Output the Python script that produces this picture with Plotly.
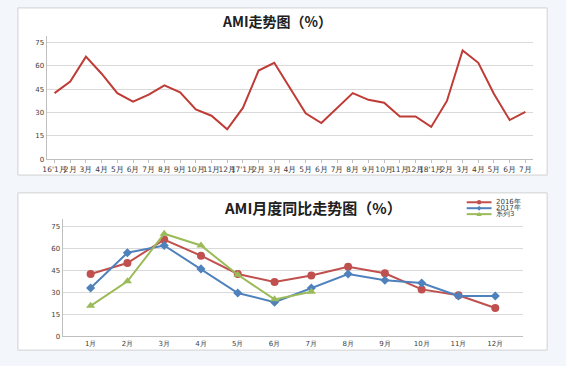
import plotly.graph_objects as go

W, H = 566, 366

months = ["1月", "2月", "3月", "4月", "5月", "6月", "7月", "8月", "9月", "10月", "11月", "12月"]
ami_2016 = [42.5, 50, 66, 55, 42.5, 37, 41.5, 47.5, 43, 32, 28, 19.3]
ami_2017 = [33, 57, 62, 46, 29.5, 23.3, 33, 42.5, 38.2, 36.3, 27.5, 27.5]
ami_2018 = [20.8, 37.5, 70, 62, 42, 25.2, 30.4]
series_names = ["2016年", "2017年", "系列3"]

top_labels = (["16'1月"] + months[1:] + ["17'1月"] + months[1:] + ["18'1月"] + months[1:7])
top_values = ami_2016 + ami_2017 + ami_2018
top_x = list(range(len(top_values)))


def px(x):
    return x / W


def py(y):
    return 1 - y / H


RED = "#C0504D"
BLUE = "#4F81BD"
GREEN = "#9BBB59"
TOPRED = "#BE3B36"
FONT = "DejaVu Sans"

fig = go.Figure()

fig.add_trace(go.Scatter(x=top_x, y=top_values, mode="lines",
                         line=dict(color=TOPRED, width=2), showlegend=False,
                         xaxis="x", yaxis="y"))

fig.add_trace(go.Scatter(x=months, y=ami_2016, mode="lines+markers", name=series_names[0],
                         line=dict(color=RED, width=2),
                         marker=dict(symbol="circle", size=8, color=RED),
                         xaxis="x2", yaxis="y2", showlegend=False))
fig.add_trace(go.Scatter(x=months, y=ami_2017, mode="lines+markers", name=series_names[1],
                         line=dict(color=BLUE, width=2),
                         marker=dict(symbol="diamond", size=7, color=BLUE),
                         xaxis="x2", yaxis="y2", showlegend=False))
fig.add_trace(go.Scatter(x=months[:len(ami_2018)], y=ami_2018, mode="lines+markers", name=series_names[2],
                         line=dict(color=GREEN, width=2),
                         marker=dict(symbol="triangle-up", size=8, color=GREEN),
                         xaxis="x2", yaxis="y2", showlegend=False))

grid = "#D9D9D9"
axcol = "#BFBFBF"
tickfont = dict(family=FONT, size=7, color="#404040")

shapes = [
    dict(type="rect", xref="paper", yref="paper", x0=px(14), x1=px(547), y0=py(177), y1=py(8),
         fillcolor="white", line=dict(color="#D0D0D0", width=1), layer="below"),
    dict(type="rect", xref="paper", yref="paper", x0=px(14), x1=px(547), y0=py(354), y1=py(195),
         fillcolor="white", line=dict(color="#D0D0D0", width=1), layer="below"),
]

annotations = [
    dict(text="<b>AMI走势图（%）</b>", xref="paper", yref="paper", x=px(275), y=py(21),
         showarrow=False, font=dict(family="Noto Sans CJK SC", size=14, color="#202020"),
         xanchor="center", yanchor="middle"),
    dict(text="<b>AMI月度同比走势图（%）</b>", xref="paper", yref="paper", x=px(311), y=py(210),
         showarrow=False, font=dict(family="Noto Sans CJK SC", size=15, color="#202020"),
         xanchor="center", yanchor="middle"),
]

# compact custom legend (Excel style)
leg_rows = [204.5, 210.5, 216.5]
leg_cols = [RED, BLUE, GREEN]
lx0, lx1 = 466, 491
for i, (name, col, ry) in enumerate(zip(series_names, leg_cols, leg_rows)):
    shapes.append(dict(type="line", xref="paper", yref="paper", x0=px(lx0), x1=px(lx1),
                       y0=py(ry), y1=py(ry), line=dict(color=col, width=2)))
    cx = (lx0 + lx1) / 2
    if i == 0:
        shapes.append(dict(type="circle", xref="paper", yref="paper",
                           x0=px(cx - 2.2), x1=px(cx + 2.2), y0=py(ry + 2.2), y1=py(ry - 2.2),
                           fillcolor=col, line=dict(color=col, width=0)))
    elif i == 1:
        shapes.append(dict(type="path", xref="paper", yref="paper",
                           path=f"M {px(cx)} {py(ry - 2.5)} L {px(cx + 2.2)} {py(ry)} L {px(cx)} {py(ry + 2.5)} L {px(cx - 2.2)} {py(ry)} Z",
                           fillcolor=col, line=dict(color=col, width=0)))
    else:
        shapes.append(dict(type="path", xref="paper", yref="paper",
                           path=f"M {px(cx)} {py(ry - 2.4)} L {px(cx + 2.6)} {py(ry + 2)} L {px(cx - 2.6)} {py(ry + 2)} Z",
                           fillcolor=col, line=dict(color=col, width=0)))
    annotations.append(dict(text=name, xref="paper", yref="paper", x=px(lx1 + 2), y=py(ry),
                            showarrow=False, xanchor="left", yanchor="middle",
                            font=dict(family=FONT, size=7, color="#404040")))

fig.update_layout(
    width=W, height=H,
    margin=dict(l=0, r=0, t=0, b=0),
    paper_bgcolor="#F3F7FC",
    plot_bgcolor="rgba(0,0,0,0)",
    font=dict(family=FONT),
    showlegend=False,
    xaxis=dict(domain=[px(43), px(533)], anchor="y", range=[-0.5, len(top_values) - 0.5],
               tickmode="array", tickvals=top_x, ticktext=top_labels, tickangle=0,
               tickfont=dict(family=FONT, size=7.5, color="#404040"),
               showgrid=False, showline=True, linecolor=axcol,
               ticks="outside", ticklen=3, tickcolor=axcol, zeroline=False),
    yaxis=dict(domain=[py(161), py(36)], anchor="x", range=[0, 79.5],
               tickmode="array", tickvals=[0, 15, 30, 45, 60, 75],
               tickfont=tickfont, showgrid=True, gridcolor=grid, gridwidth=1,
               showline=True, linecolor=axcol, zeroline=False, ticks="", ticklen=3),
    xaxis2=dict(domain=[px(59), px(523)], anchor="y2", type="category",
                tickangle=0, tickfont=tickfont, showgrid=False, showline=True,
                linecolor=axcol, zeroline=False, ticks=""),
    yaxis2=dict(domain=[py(340), py(221.5)], anchor="x2", range=[0, 80],
                tickmode="array", tickvals=[0, 15, 30, 45, 60, 75],
                tickfont=tickfont, showgrid=True, gridcolor=grid, gridwidth=1,
                showline=True, linecolor=axcol, zeroline=False),
    shapes=shapes,
    annotations=annotations,
)

fig.write_html("out.html", config={"displayModeBar": False},
               post_script="document.body.style.margin='0';document.body.style.overflow='hidden';")
